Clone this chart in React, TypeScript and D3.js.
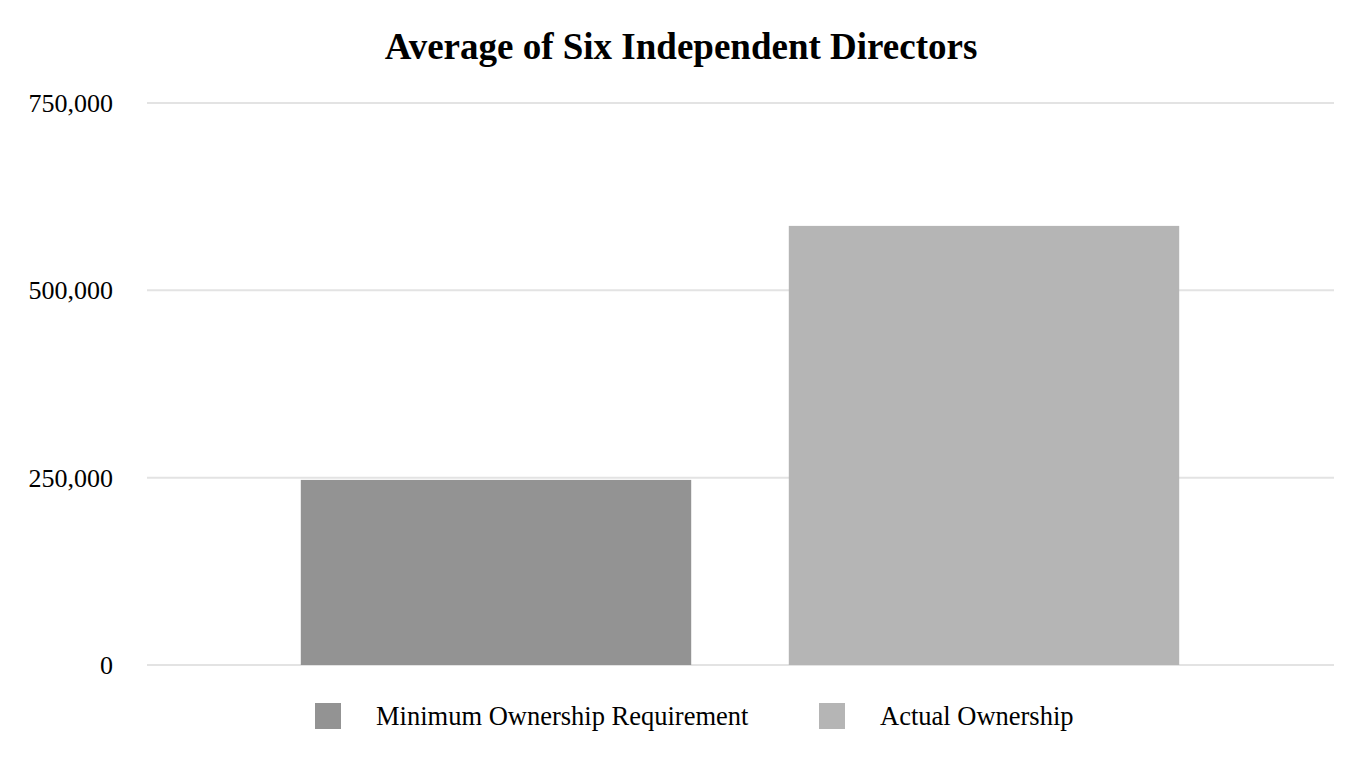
import React from "react";
import * as d3 from "d3";

const categories = ["Minimum Ownership Requirement", "Actual Ownership"];
const values = [247000, 586000];
const colors = ["#939393", "#b5b5b5"];
const yTicks = [0, 250000, 500000, 750000];
const title = "Average of Six Independent Directors";

export default function App() {
  const W = 1364, H = 772;
  const y = d3.scaleLinear().domain([0, 750000]).range([665, 103]);
  const x = d3.scaleBand<string>().domain(categories).range([252, 1228]).paddingInner(0.2).paddingOuter(0.1);
  const fmt = d3.format(",");
  const font = "'Liberation Serif', 'Times New Roman', serif";
  const legendX = [315, 819];
  return (
    <svg width={W} height={H} style={{ position: "absolute", left: 0, top: 0, background: "#fff" }}>
      <rect width={W} height={H} fill="#fff" />
      <text x={681} y={59} textAnchor="middle" fontFamily={font} fontWeight="bold" fontSize={37} fill="#000">{title}</text>
      {yTicks.map((t) => (
        <g key={t}>
          <line x1={147} x2={1334} y1={y(t)} y2={y(t)} stroke="#e3e3e3" strokeWidth={2} />
          <text x={113} y={y(t) + 9} textAnchor="end" fontFamily={font} fontSize={26} fill="#000">{fmt(t)}</text>
        </g>
      ))}
      {categories.map((c, i) => (
        <rect key={c} x={x(c)} y={y(values[i])} width={x.bandwidth()} height={y(0) - y(values[i])} fill={colors[i]} />
      ))}
      {categories.map((c, i) => (
        <g key={c}>
          <rect x={legendX[i]} y={703} width={26} height={26} fill={colors[i]} />
          <text x={legendX[i] + 61} y={725} fontFamily={font} fontSize={26.5} fill="#000">{c}</text>
        </g>
      ))}
    </svg>
  );
}
